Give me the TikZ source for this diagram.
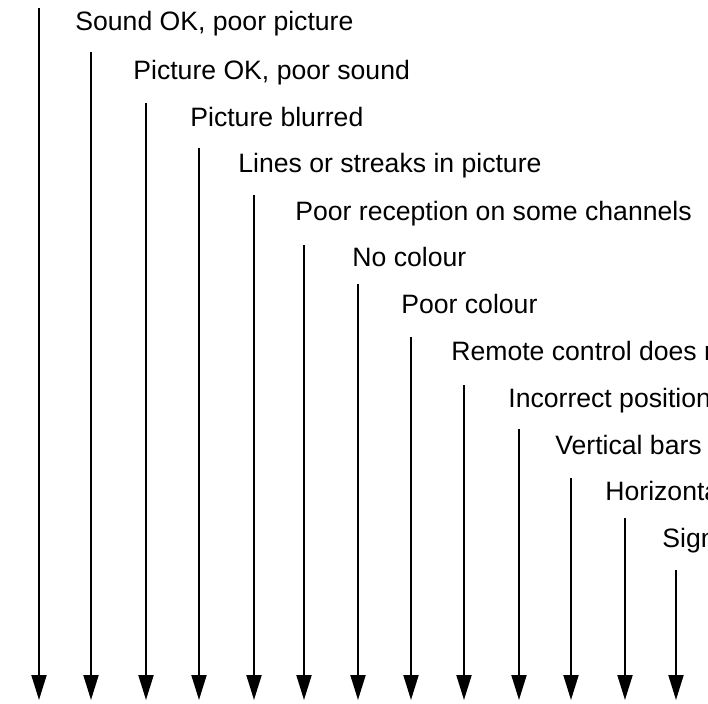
\documentclass[tikz,border=0pt]{standalone}
\usepackage{fontspec}
\setmainfont{Liberation Sans}
\usetikzlibrary{arrows.meta}

\tikzset{
    fault/.style={anchor=base west, inner sep=0pt, font=\fontsize{13.3pt}{15pt}\selectfont},
    faultline/.style={draw=black, line width=1pt, -{Triangle[length=12.5pt, width=7.5pt]}}
}

\begin{document}
\begin{tikzpicture}[x=0.5pt, y=-0.5pt]
        \clip (0, 0) rectangle (708, 703);
        \fill [white] (0, 0) rectangle (708, 703);

        % labels
        \node [fault] (sound)    at (75, 30)  {Sound OK, poor picture};
        \node [fault] (picture)  at (133, 79) {Picture OK, poor sound};
        \node [fault] (blurred)  at (190, 126) {Picture blurred};
        \node [fault] (streaks)  at (238, 172) {Lines or streaks in picture};
        \node [fault] (reception) at (295, 220) {Poor reception on some channels};
        \node [fault] (nocolour) at (352, 266) {No colour};
        \node [fault] (poorcolour) at (401, 313) {Poor colour};
        \node [fault] (remote)   at (451, 360) {Remote control does not};
        \node [fault] (position) at (508, 407) {Incorrect position};
        \node [fault] (vbars)    at (555, 454) {Vertical bars};
        \node [fault] (hbars)    at (605, 500) {Horizontal};
        \node [fault] (signal)   at (662, 547) {Signal};

        % arrow ends
        \coordinate (t1) at (39, 8);    \coordinate (b1) at (39, 700);
        \coordinate (t2) at (91, 52);   \coordinate (b2) at (91, 700);
        \coordinate (t3) at (146, 103); \coordinate (b3) at (146, 700);
        \coordinate (t4) at (199, 148); \coordinate (b4) at (199, 700);
        \coordinate (t5) at (254, 195); \coordinate (b5) at (254, 700);
        \coordinate (t6) at (304, 245); \coordinate (b6) at (304, 700);
        \coordinate (t7) at (358, 284); \coordinate (b7) at (358, 700);
        \coordinate (t8) at (411, 337); \coordinate (b8) at (411, 700);
        \coordinate (t9) at (464, 385); \coordinate (b9) at (464, 700);
        \coordinate (t10) at (519, 429); \coordinate (b10) at (519, 700);
        \coordinate (t11) at (571, 478); \coordinate (b11) at (571, 700);
        \coordinate (t12) at (625, 518); \coordinate (b12) at (625, 700);
        \coordinate (t13) at (676, 570); \coordinate (b13) at (676, 700);

        \draw [faultline] (t1) -- (b1);
        \draw [faultline] (t2) -- (b2);
        \draw [faultline] (t3) -- (b3);
        \draw [faultline] (t4) -- (b4);
        \draw [faultline] (t5) -- (b5);
        \draw [faultline] (t6) -- (b6);
        \draw [faultline] (t7) -- (b7);
        \draw [faultline] (t8) -- (b8);
        \draw [faultline] (t9) -- (b9);
        \draw [faultline] (t10) -- (b10);
        \draw [faultline] (t11) -- (b11);
        \draw [faultline] (t12) -- (b12);
        \draw [faultline] (t13) -- (b13);
    \end{tikzpicture}
\end{document}
